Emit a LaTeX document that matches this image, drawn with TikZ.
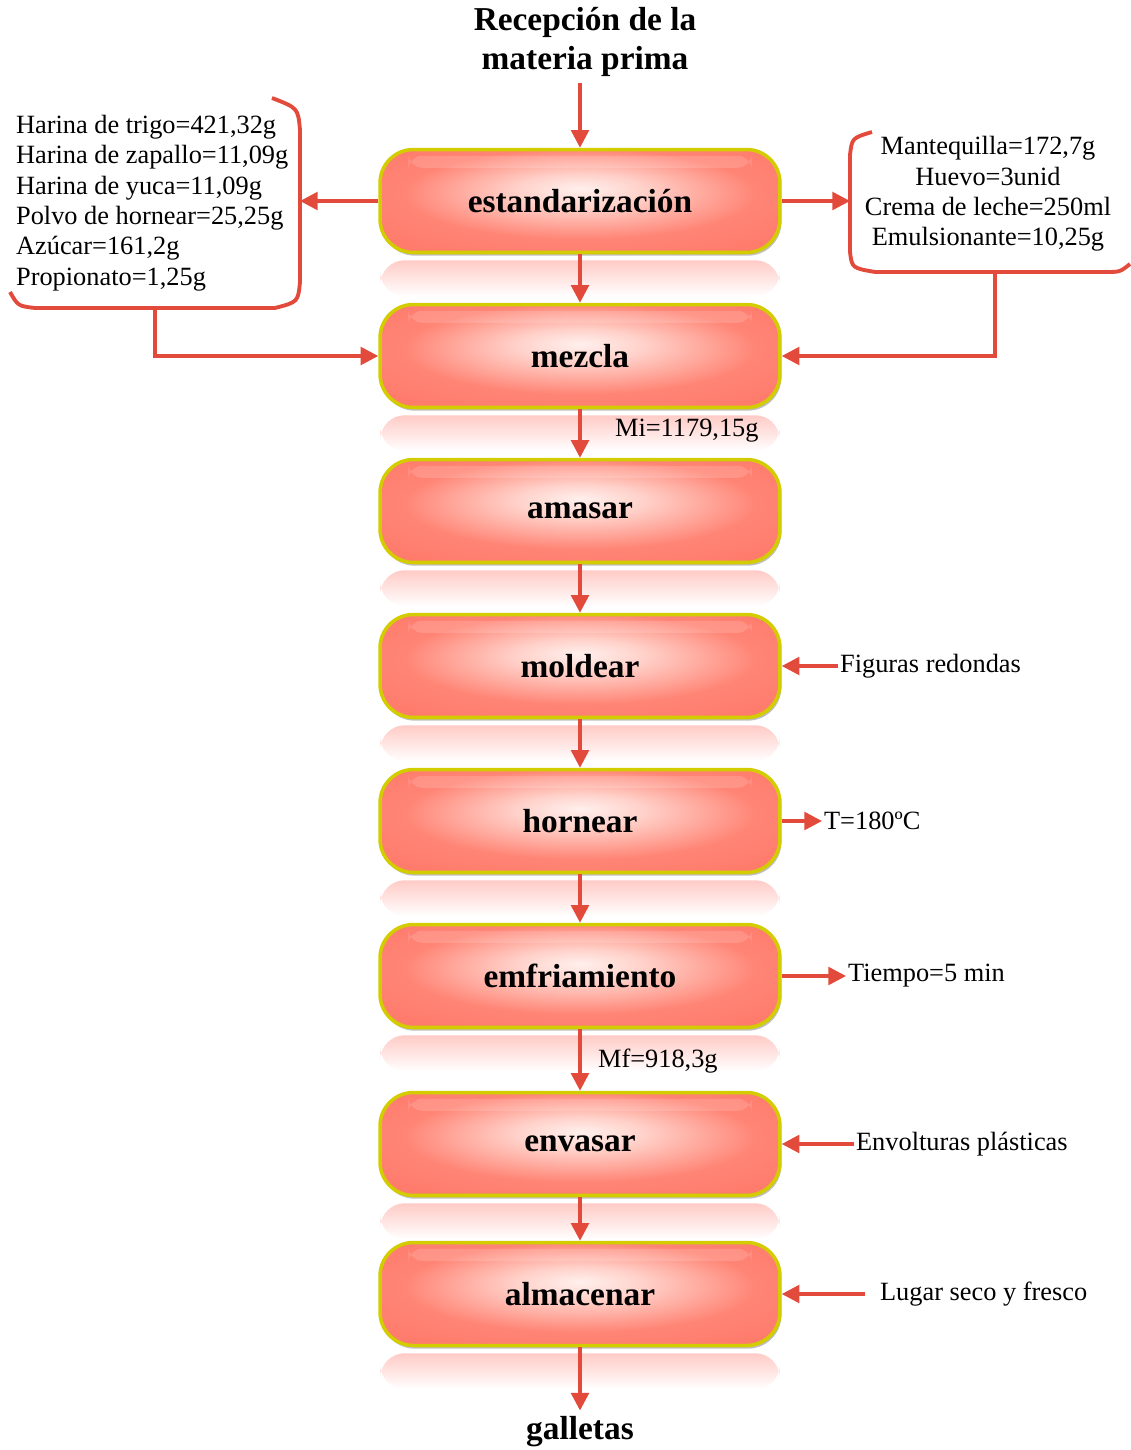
\documentclass[tikz,border=0pt]{standalone}
\usepackage{fontspec}
\setmainfont{Liberation Serif}
\usetikzlibrary{arrows.meta,positioning,calc,shadows}
\definecolor{rojo}{HTML}{E24B3B}
\definecolor{salmon}{HTML}{FF6A5C}
\definecolor{amarillo}{HTML}{D2CC00}
\pgfdeclareradialshading{brillo}{\pgfpoint{0bp}{6bp}}{rgb(0bp)=(1,0.94,0.93); rgb(8bp)=(1,0.82,0.79); rgb(22bp)=(1,0.52,0.46); rgb(50bp)=(1,0.42,0.36)}

\begin{document}
\begin{tikzpicture}[x=0.02cm, y=-0.02cm,
    etapa/.style={rectangle, rounded corners=19pt, draw=amarillo, line width=2pt, shade, shading=brillo, minimum width=8cm, minimum height=2.06cm, font=\fontsize{19}{22}\selectfont\bfseries, drop shadow={opacity=0.5, shadow xshift=0.8pt, shadow yshift=-1.8pt}},
    reflejo/.style={top color=salmon!35, bottom color=white, rounded corners=14pt},
    flecha/.style={rojo, line width=2pt, -{Triangle[length=10pt, width=10pt]}},
    corchete/.style={rojo, line width=2.2pt},
    titulo/.style={align=center, font=\fontsize{19}{22.7}\selectfont\bfseries},
    dato/.style={font=\fontsize{15}{17.3}\selectfont, inner sep=1pt}
]
    \useasboundingbox (0,0) rectangle (1130,1450);

    % etapas del proceso
    \node[titulo] (rec) at (585,42) {Recepción de la\\materia prima};
    \node[etapa] (est) at (580,201) {estandarización};
    \node[etapa] (mez) at (580,356) {mezcla};
    \node[etapa] (ama) at (580,511) {amasar};
    \node[etapa] (mol) at (580,666) {moldear};
    \node[etapa] (hor) at (580,821) {hornear};
    \node[etapa] (enf) at (580,976) {emfriamiento};
    \node[etapa] (env) at (580,1144) {envasar};
    \node[etapa] (alm) at (580,1294) {almacenar};
    \node[titulo] (gal) at (580,1432) {galletas};

    \foreach \n in {est,mez,ama,mol,hor,enf,env,alm} {
        \shade[reflejo] ($(\n.south west)+(2,6)$) rectangle ($(\n.south east)+(-2,42)$);
        \fill[white, opacity=0.15, rounded corners=8pt] ($(\n.north west)+(30,8)$) rectangle ($(\n.north east)+(-30,20)$);
    }

    % flujo principal
    \draw[flecha] (rec.south -| est.north) -- (est.north);
    \foreach \a/\b in {est/mez, mez/ama, ama/mol, mol/hor, hor/enf, enf/env, env/alm}
        \draw[flecha] (\a) -- (\b);
    \draw[flecha] (alm) -- (gal);

    \node[dato, anchor=west] (mi) at (613,431) {Mi=1179,15g};
    \node[dato, anchor=west] (mf) at (596,1061) {Mf=918,3g};

    % ingredientes
    \node[dato, align=left, anchor=west] (ingIzq) at (14,203) {Harina de trigo=421,32g\\Harina de zapallo=11,09g\\Harina de yuca=11,09g\\Polvo de hornear=25,25g\\Azúcar=161,2g\\Propionato=1,25g};
    \node[dato, align=center] (ingDer) at (988,194) {Mantequilla=172,7g\\Huevo=3unid\\Crema de leche=250ml\\Emulsionante=10,25g};

    \draw[corchete] (272,98) .. controls (298,108) .. (300,130) -- (300,282) .. controls (298,302) .. (275,308) -- (35,308) .. controls (18,306) .. (10,292);
    \draw[corchete] (872,132) .. controls (852,138) .. (850,155) -- (850,252) .. controls (852,268) .. (875,272) -- (1105,272) .. controls (1120,272) .. (1130,264);

    \coordinate (cIzq) at (300,201);
    \coordinate (bIzq) at (155,308);
    \coordinate (cDer) at (850,201);
    \coordinate (bDer) at (995,272);
    \draw[flecha] (est.west) -- (cIzq);
    \draw[flecha] (est.east) -- (cDer);
    \draw[flecha] (bIzq) |- (mez.west);
    \draw[flecha] (bDer) |- (mez.east);

    % condiciones
    \node[dato, anchor=west] (fig) at (838,666) {Figuras redondas};
    \node[dato, anchor=west] (temp) at (822,821) {T=180ºC};
    \node[dato, anchor=west] (tiem) at (846,976) {Tiempo=5 min};
    \node[dato, anchor=west] (envol) at (854,1144) {Envolturas plásticas};
    \node[dato, anchor=west] (lugar) at (878,1294) {Lugar seco y fresco};
    \coordinate (cLug) at ($(lugar.west)+(-13,0)$);

    \draw[flecha] (fig.west) -- (mol.east);
    \draw[flecha] (hor.east) -- (temp.west);
    \draw[flecha] (enf.east) -- (tiem.west);
    \draw[flecha] (envol.west) -- (env.east);
    \draw[flecha] (cLug) -- (alm.east);
\end{tikzpicture}
\end{document}
